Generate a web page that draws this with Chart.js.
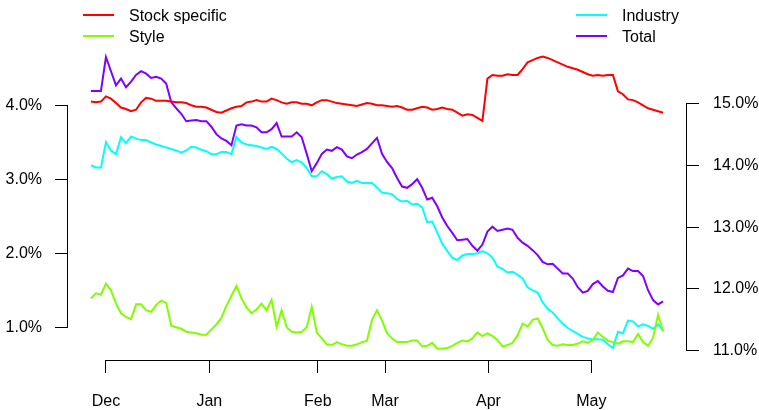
<!DOCTYPE html>
<html>
<head>
<meta charset="utf-8">
<script src="https://cdn.jsdelivr.net/npm/chart.js@4/dist/chart.umd.min.js"></script>
<style>
  html, body { margin: 0; padding: 0; background: #fff; }
</style>
</head>
<body>
<canvas id="risk" width="759" height="410"></canvas>
<script>
// daily risk contributions (%), one value per trading day
var stockSpecific = [
  4.05, 4.04, 4.05, 4.12, 4.09, 4.03, 3.97, 3.95, 3.92, 3.94,
  4.04, 4.10, 4.09, 4.06, 4.06, 4.06, 4.05, 4.04, 4.04, 4.03,
  4.00, 3.98, 3.98, 3.97, 3.94, 3.91, 3.90, 3.93, 3.96, 3.98,
  3.99, 4.04, 4.05, 4.07, 4.05, 4.05, 4.09, 4.07, 4.04, 4.02,
  4.04, 4.04, 4.02, 4.02, 4.00, 4.04, 4.07, 4.07, 4.05, 4.03,
  4.02, 4.01, 4.00, 3.99, 4.01, 4.03, 4.02, 4.00, 4.00, 3.99,
  3.98, 3.99, 3.97, 3.94, 3.94, 3.96, 3.98, 3.97, 3.94, 3.95,
  3.97, 3.95, 3.94, 3.90, 3.86, 3.88, 3.87, 3.83, 3.79, 4.36,
  4.41, 4.40, 4.40, 4.42, 4.41, 4.41, 4.49, 4.58, 4.61, 4.64,
  4.66, 4.64, 4.61, 4.58, 4.55, 4.52, 4.50, 4.48, 4.45, 4.42,
  4.40, 4.41, 4.40, 4.41, 4.41, 4.19, 4.15, 4.08, 4.07, 4.04,
  4.00, 3.96, 3.94, 3.92, 3.90
];
var style = [
  1.39, 1.46, 1.44, 1.59, 1.50, 1.32, 1.19, 1.14, 1.11, 1.31,
  1.31, 1.23, 1.21, 1.30, 1.36, 1.33, 1.02, 1.00, 0.98, 0.94,
  0.93, 0.92, 0.90, 0.90, 0.97, 1.04, 1.13, 1.29, 1.43, 1.56,
  1.39, 1.27, 1.19, 1.24, 1.32, 1.23, 1.37, 1.01, 1.23, 1.00,
  0.94, 0.93, 0.94, 1.00, 1.28, 0.93, 0.85, 0.77, 0.76, 0.80,
  0.77, 0.75, 0.75, 0.77, 0.80, 0.82, 1.10, 1.23, 1.09, 0.92,
  0.85, 0.80, 0.80, 0.80, 0.82, 0.82, 0.74, 0.75, 0.79, 0.71,
  0.71, 0.72, 0.75, 0.79, 0.82, 0.81, 0.85, 0.93, 0.88, 0.92,
  0.88, 0.83, 0.74, 0.76, 0.79, 0.89, 1.05, 1.01, 1.10, 1.12,
  0.99, 0.83, 0.76, 0.75, 0.77, 0.76, 0.76, 0.78, 0.81, 0.79,
  0.83, 0.93, 0.87, 0.82, 0.80, 0.78, 0.81, 0.81, 0.80, 0.91,
  0.80, 0.75, 0.86, 1.17, 0.94
];
var industry = [
  3.19, 3.16, 3.16, 3.50, 3.39, 3.34, 3.57, 3.49, 3.58, 3.55,
  3.53, 3.53, 3.50, 3.47, 3.45, 3.43, 3.41, 3.39, 3.36, 3.39,
  3.44, 3.43, 3.40, 3.38, 3.34, 3.34, 3.37, 3.37, 3.34, 3.57,
  3.50, 3.47, 3.46, 3.45, 3.43, 3.41, 3.44, 3.41, 3.35, 3.28,
  3.23, 3.26, 3.23, 3.15, 3.04, 3.04, 3.11, 3.07, 3.01, 3.03,
  3.04, 2.97, 2.95, 2.98, 2.95, 2.95, 2.95, 2.89, 2.82, 2.81,
  2.80, 2.73, 2.70, 2.71, 2.66, 2.67, 2.62, 2.42, 2.43, 2.28,
  2.13, 2.03, 1.94, 1.91, 1.97, 1.99, 1.99, 2.00, 2.03, 2.00,
  1.94, 1.82, 1.79, 1.74, 1.75, 1.71, 1.66, 1.54, 1.50, 1.47,
  1.34, 1.25, 1.20, 1.12, 1.05, 0.99, 0.95, 0.91, 0.87, 0.85,
  0.84, 0.84, 0.83, 0.77, 0.72, 0.94, 0.92, 1.09, 1.08, 1.01,
  1.04, 1.02, 0.98, 1.04, 0.96
];
var total = [
  15.21, 15.21, 15.21, 15.76, 15.53, 15.30, 15.41, 15.27, 15.36, 15.47,
  15.53, 15.49, 15.42, 15.44, 15.41, 15.33, 15.03, 14.93, 14.84, 14.72,
  14.73, 14.74, 14.72, 14.72, 14.63, 14.51, 14.44, 14.40, 14.33, 14.65,
  14.67, 14.65, 14.65, 14.62, 14.54, 14.54, 14.59, 14.69, 14.47, 14.47,
  14.47, 14.54, 14.46, 14.19, 13.91, 14.04, 14.19, 14.26, 14.24, 14.30,
  14.26, 14.15, 14.12, 14.18, 14.22, 14.27, 14.36, 14.45, 14.19, 14.06,
  13.96, 13.80, 13.66, 13.64, 13.70, 13.78, 13.64, 13.45, 13.48, 13.34,
  13.16, 13.02, 12.91, 12.79, 12.80, 12.81, 12.70, 12.62, 12.72, 12.93,
  13.01, 12.94, 12.96, 12.98, 12.96, 12.83, 12.75, 12.70, 12.63, 12.55,
  12.44, 12.40, 12.41, 12.33, 12.25, 12.25, 12.17, 12.03, 11.94, 11.97,
  12.08, 12.13, 12.04, 11.97, 11.95, 12.18, 12.22, 12.33, 12.29, 12.29,
  12.21, 11.98, 11.82, 11.75, 11.80
];

// month starts, as positions on the trading-day index
var monthLabels = ["Dec", "Jan", "Feb", "Mar", "Apr", "May"];
var monthPos = [3.0, 23.6, 45.2, 58.6, 79.2, 99.7];
var leftTicks = [1, 2, 3, 4];
var rightTicks = [11, 12, 13, 14, 15];

function points(arr) {
    return arr.map(function (v, i) { return { x: i, y: v }; });
}

function pct(v) {
    return v.toFixed(1) + "%";
}

Chart.defaults.font.family = "'Liberation Sans', Arial, sans-serif";
Chart.defaults.font.size = 16;
Chart.defaults.color = "#000";

// R style axes: line only between the first and last tick
var axisLines = {
    id: "axisLines",
    afterDraw: function (chart) {
        var ctx = chart.ctx;
        var sx = chart.scales.x, sl = chart.scales.y, sr = chart.scales.y2;
        ctx.save();
        ctx.strokeStyle = "#000";
        ctx.lineWidth = 1;
        ctx.beginPath();
        var xl = Math.round(sl.right) - 0.5;
        ctx.moveTo(xl, sl.getPixelForValue(leftTicks[0]));
        ctx.lineTo(xl, sl.getPixelForValue(leftTicks[leftTicks.length - 1]));
        var xr = Math.round(sr.left) + 0.5;
        ctx.moveTo(xr, sr.getPixelForValue(rightTicks[0]));
        ctx.lineTo(xr, sr.getPixelForValue(rightTicks[rightTicks.length - 1]));
        var yb = Math.round(sx.top) + 0.5;
        ctx.moveTo(sx.getPixelForValue(monthPos[0]), yb);
        ctx.lineTo(sx.getPixelForValue(monthPos[monthPos.length - 1]), yb);
        ctx.stroke();
        ctx.restore();
    }
};

// two column legend, filled column by column
var legendBox = {
    id: "legendBox",
    afterDraw: function (chart) {
        var ctx = chart.ctx;
        var slots = [[83, 15], [83, 36], [576, 15], [576, 36]];
        ctx.save();
        ctx.font = "16px 'Liberation Sans', Arial, sans-serif";
        ctx.textBaseline = "alphabetic";
        chart.data.datasets.forEach(function (ds, i) {
            var s = slots[i];
            ctx.strokeStyle = ds.borderColor;
            ctx.lineWidth = 2;
            ctx.beginPath();
            ctx.moveTo(s[0], s[1]);
            ctx.lineTo(s[0] + 31, s[1]);
            ctx.stroke();
            ctx.fillStyle = "#000";
            ctx.fillText(ds.label, s[0] + 46, s[1] + 6);
        });
        ctx.restore();
    }
};

new Chart(document.getElementById("risk").getContext("2d"), {
    type: "line",
    data: {
        datasets: [
            { label: "Stock specific", data: points(stockSpecific), borderColor: "#FF0000", yAxisID: "y" },
            { label: "Style", data: points(style), borderColor: "#80FF00", yAxisID: "y" },
            { label: "Industry", data: points(industry), borderColor: "#00FFFF", yAxisID: "y" },
            { label: "Total", data: points(total), borderColor: "#8000FF", yAxisID: "y2" }
        ]
    },
    options: {
        responsive: false,
        animation: false,
        layout: { padding: { top: 45, left: 0, right: 0, bottom: 0 } },
        elements: {
            line: { borderWidth: 2, tension: 0, fill: false },
            point: { radius: 0 }
        },
        plugins: {
            legend: { display: false },
            tooltip: { enabled: false }
        },
        scales: {
            x: {
                type: "linear",
                min: -4.56,
                max: 118.56,
                afterFit: function (s) { s.height = 50; },
                afterBuildTicks: function (s) {
                    s.ticks = monthPos.map(function (v) { return { value: v }; });
                },
                ticks: {
                    autoSkip: false,
                    maxRotation: 0,
                    padding: 19,
                    callback: function (v, i) { return monthLabels[i]; }
                },
                grid: { drawOnChartArea: false, tickLength: 13, color: "#000" },
                border: { display: false }
            },
            y: {
                position: "left",
                min: 0.558,
                max: 4.815,
                afterFit: function (s) { s.width = 68; },
                afterBuildTicks: function (s) {
                    s.ticks = leftTicks.map(function (v) { return { value: v }; });
                },
                ticks: { padding: 13, callback: function (v) { return pct(v); } },
                grid: { drawOnChartArea: false, tickLength: 13, color: "#000" },
                border: { display: false }
            },
            y2: {
                position: "right",
                min: 10.849,
                max: 15.955,
                afterFit: function (s) { s.width = 73; },
                afterBuildTicks: function (s) {
                    s.ticks = rightTicks.map(function (v) { return { value: v }; });
                },
                ticks: { padding: 14, callback: function (v) { return pct(v); } },
                grid: { drawOnChartArea: false, tickLength: 13, color: "#000" },
                border: { display: false }
            }
        }
    },
    plugins: [axisLines, legendBox]
});
</script>
</body>
</html>
